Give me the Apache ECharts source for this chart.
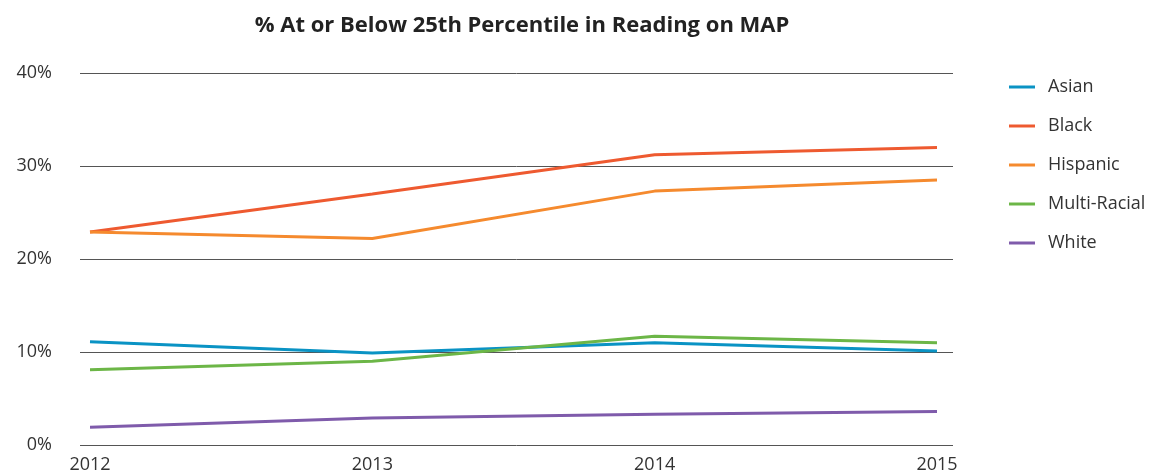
<!DOCTYPE html>
<html>
<head>
<meta charset="utf-8">
<script src="https://cdn.jsdelivr.net/npm/echarts@6/dist/echarts.min.js"></script>
<style>
  html, body { margin: 0; padding: 0; background: #fff; }
  #chart { width: 1150px; height: 475px; }
</style>
</head>
<body>
<div id="chart"></div>
<script>
// years on the x axis
var years = ['2012', '2013', '2014', '2015']
// share of students at or below 25th percentile (%)
var asian = [11.1, 9.9, 11.0, 10.1]
var black = [22.9, 27.0, 31.2, 32.0]
var hispanic = [22.9, 22.2, 27.3, 28.5]
var multiRacial = [8.1, 9.0, 11.7, 11.0]
var white = [1.9, 2.9, 3.3, 3.6]
var yTicks = [0, 10, 20, 30, 40]

var seriesNames = ['Asian', 'Black', 'Hispanic', 'Multi-Racial', 'White']
var seriesValues = [asian, black, hispanic, multiRacial, white]
var colors = ['#0a93c4', '#ee5a30', '#f58a2e', '#6cb647', '#7f5bab']

var font = '"Open Sans", "Noto Sans", sans-serif'
var chart = echarts.init(document.getElementById('chart'))

var series = seriesNames.map(function (name, i) {
  return {
    name: name,
    type: 'line',
    xAxisIndex: 0,
    yAxisIndex: 0,
    data: seriesValues[i],
    showSymbol: false,
    symbol: 'none',
    lineStyle: { width: 3, color: colors[i] },
    itemStyle: { color: colors[i] },
    animation: false
  }
})

var option = {
  backgroundColor: '#fff',
  title: {
    text: '% At or Below 25th Percentile in Reading on MAP',
    left: 517,
    textAlign: 'center',
    top: 10,
    textStyle: { fontFamily: font, fontSize: 22, fontWeight: 'bold', color: '#222' }
  },
  legend: {
    orient: 'vertical',
    left: 1004,
    top: 72,
    icon: 'rect',
    itemWidth: 26,
    itemHeight: 3,
    itemGap: 19,
    textStyle: { fontFamily: font, fontSize: 18, color: '#333', padding: [0, 0, 0, 8], lineHeight: 20 },
    data: seriesNames
  },
  grid: [
    // grid for the lines
    { left: 90, right: 213, top: 73, bottom: 30 },
    // wider grid for the horizontal rules and y labels
    { left: 80, right: 197, top: 73, bottom: 30 }
  ],
  xAxis: [
    {
      gridIndex: 0,
      type: 'category',
      data: years,
      boundaryGap: false,
      axisLine: { show: false },
      axisTick: { show: false },
      axisLabel: { fontFamily: font, fontSize: 18, color: '#333', margin: 11 }
    },
    {
      gridIndex: 1,
      type: 'category',
      data: years,
      show: false
    }
  ],
  yAxis: [
    {
      gridIndex: 0,
      type: 'value',
      min: yTicks[0],
      max: yTicks[yTicks.length - 1],
      interval: 10,
      show: false,
      splitLine: { show: false }
    },
    {
      gridIndex: 1,
      type: 'value',
      min: yTicks[0],
      max: yTicks[yTicks.length - 1],
      interval: 10,
      axisLine: { show: false },
      axisTick: { show: false },
      axisLabel: {
        fontFamily: font, fontSize: 18, color: '#333', margin: 28,
        formatter: function (v) { return v + '%' }
      },
      splitLine: { lineStyle: { color: '#555', width: 1 } }
    }
  ],
  series: series
}

chart.setOption(option)
</script>
</body>
</html>
